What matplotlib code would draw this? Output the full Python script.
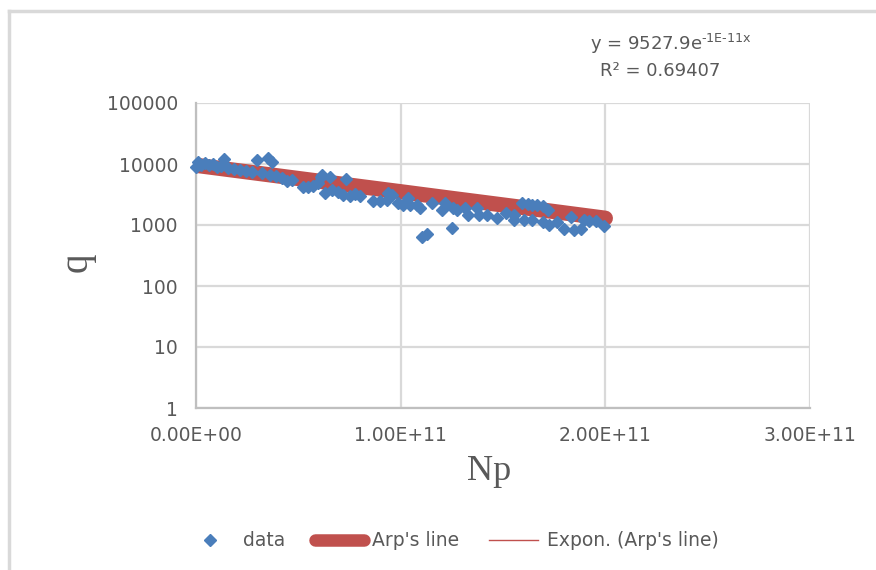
import numpy as np
import matplotlib
matplotlib.use("Agg")
import matplotlib.pyplot as plt
from matplotlib.lines import Line2D
from matplotlib.ticker import FixedLocator, FuncFormatter, NullLocator

# ---- data (Np in units of 1e9) ----
data_np = np.array([
    0.0, 1.0, 2.4, 4.4, 6.3, 8.3, 10.2, 13.7, 12.2, 15.6,
    18.5, 21.5, 24.4, 27.3, 29.8, 32.2, 35.1, 37.1, 36.1, 39.0,
    42.0, 44.4, 46.8, 52.2, 54.6, 57.1, 59.5, 61.0, 61.5, 65.4,
    73.2, 62.9, 66.3, 69.3, 71.7, 75.1, 77.6, 80.0, 86.3, 89.8,
    93.7, 93.2, 95.6, 98.5, 101.0, 103.4, 104.4, 107.8, 109.3, 110.2,
    112.7, 115.1, 120.0, 121.5, 124.9, 125.4, 127.3, 131.2, 132.7, 137.1,
    138.5, 142.0, 147.3, 151.7, 155.6, 155.6, 159.5, 162.0, 164.4, 166.8,
    169.3, 172.2, 160.5, 164.4, 169.3, 172.7, 176.6, 180.0, 183.4, 184.9,
    188.3, 189.8, 192.2, 195.6, 199.5,
]) * 1e9
data_q = np.array([
    8930, 10790, 9630, 10380, 9630, 10000, 8930, 12080, 9270, 8600,
    8280, 7980, 7680, 7400, 11630, 7110, 12540, 10790, 6600, 6350,
    5890, 5260, 5470, 4200, 4200, 4360, 4890, 6120, 6600, 6120,
    5680, 3350, 3750, 3470, 3100, 2990, 3220, 2990, 2470, 2470,
    3350, 2570, 3100, 2300, 2130, 2770, 2130, 2130, 1900, 636,
    712, 2300, 1760, 2300, 893, 1900, 1760, 1900, 1460, 1900,
    1460, 1460, 1300, 1570, 1460, 1210, 2300, 2210, 2130, 2130,
    2050, 1760, 1210, 1210, 1120, 1000, 1120, 860, 1350, 828,
    860, 1210, 1160, 1160, 964,
])

# Arp's line
arps_np = np.array([0, 25, 50, 75, 100, 125, 150, 175, 200]) * 1e9
arps_q = np.array([9530, 7420, 5780, 4500, 3510, 2730, 2130, 1660, 1290])

# exponential trendline as written on the chart
trend_a = 9527.9
trend_b = -1e-11

x_ticks = [0, 1e11, 2e11, 3e11]
y_ticks = [1, 10, 100, 1000, 10000, 100000]

gray = "#595959"
grid = "#D9D9D9"
font = "DejaVu Sans"

fig = plt.figure(figsize=(8.76, 5.70), dpi=100)
ax = fig.add_axes([196 / 876, 1 - 408 / 570, (810 - 196) / 876, (408 - 103) / 570])

ax.set_yscale("log")
ax.set_xlim(0, 3e11)
ax.set_ylim(1, 100000)

ax.plot(arps_np, arps_q, color="#C0504D", lw=11, solid_capstyle="round", zorder=2)
tx = np.linspace(0, 2e11, 50)
ax.plot(tx, trend_a * np.exp(trend_b * tx), color="#C0504D", lw=0.8, zorder=3)
ax.plot(data_np, data_q, ls="none", marker="D", ms=6.5, color="#4A7EBB",
        mec="#4A7EBB", zorder=4, clip_on=False)

ax.xaxis.set_major_locator(FixedLocator(x_ticks))
ax.yaxis.set_major_locator(FixedLocator(y_ticks))
ax.yaxis.set_minor_locator(NullLocator())
ax.xaxis.set_major_formatter(FuncFormatter(lambda v, p: "%.2E" % v))
ax.yaxis.set_major_formatter(FuncFormatter(lambda v, p: "%d" % v))
ax.tick_params(length=0, labelsize=13.5, labelcolor=gray, pad=13)
for lab in ax.get_xticklabels() + ax.get_yticklabels():
    lab.set_family(font)

ax.grid(True, color=grid, lw=1.6, zorder=0)
ax.set_axisbelow(True)
for s in ["top", "right"]:
    ax.spines[s].set_visible(False)
for s in ["left", "bottom"]:
    ax.spines[s].set_color("#BFBFBF")
    ax.spines[s].set_linewidth(1.6)

ax.set_ylabel("q", family="Liberation Serif", fontsize=28, color=gray)
ax.yaxis.set_label_coords((77 - 196) / 614, (408 - 262) / 305)
ax.set_xlabel("Np", family="Liberation Serif", fontsize=26, color=gray)
ax.xaxis.set_label_coords((489 - 196) / 614, -(471 - 408) / 305)
ax.yaxis.label.set_va("center")
ax.xaxis.label.set_va("center")

fig.text(671 / 876, 1 - 44 / 570, r"y = 9527.9e$^{\mathregular{\text{-}1E\text{-}11x}}$",
         ha="center", va="center", fontsize=13, color=gray, family=font)
fig.text(660 / 876, 1 - 71 / 570, "R² = 0.69407",
         ha="center", va="center", fontsize=13, color=gray, family=font)

handles = [
    Line2D([], [], ls="none", marker="D", ms=6, color="#4A7EBB"),
    Line2D([], [], color="#C0504D", lw=9, solid_capstyle="round"),
    Line2D([], [], color="#C0504D", lw=1),
]
leg = fig.legend(handles, ["data", "Arp's line", "Expon. (Arp's line)"],
                 loc="center", bbox_to_anchor=(452 / 876, 1 - 541 / 570), ncol=3,
                 frameon=False, handlelength=2.6, handletextpad=0.45,
                 columnspacing=1.6, prop={"family": font, "size": 13.5})
for t in leg.get_texts():
    t.set_color(gray)

# chart area border (left and top edges visible)
fig.add_artist(Line2D([9 / 876, 9 / 876], [0, 1 - 11 / 570], transform=fig.transFigure,
                      color=grid, lw=2.5))
fig.add_artist(Line2D([9 / 876, 1], [1 - 11 / 570, 1 - 11 / 570], transform=fig.transFigure,
                      color=grid, lw=2.5))

fig.savefig("out.png", dpi=100)
